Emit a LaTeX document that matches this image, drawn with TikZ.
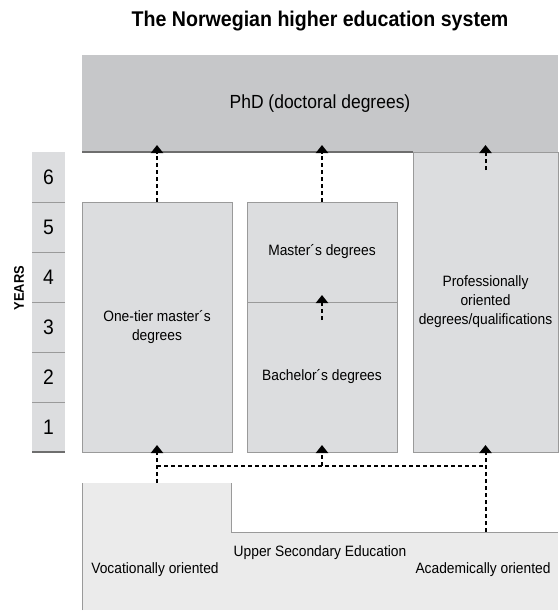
\documentclass[tikz,border=0pt]{standalone}
\usepackage{fontspec}
\setmainfont{Liberation Sans}[FakeStretch=0.92]
\usetikzlibrary{arrows.meta}
\usetikzlibrary{positioning}
\definecolor{phdgray}{HTML}{C6C7C9}
\definecolor{boxgray}{HTML}{DCDDDF}
\definecolor{basegray}{HTML}{EBEBEB}
\definecolor{rulegray}{HTML}{9A9A9A}
\definecolor{darkrule}{HTML}{6E6E6E}
\tikzset{x = 1pt, y = -1pt, > = {Triangle[width = 12pt, length = 8pt]},
  degreebox/.style = {rectangle, fill = boxgray, draw = rulegray, line width = 0.8pt,
    inner sep = 0pt, outer sep = 0pt, align = center, font = \fontsize{15}{19}\selectfont},
  yearcell/.style = {rectangle, fill = boxgray, minimum width = 33pt, minimum height = 50pt,
    inner sep = 0pt, outer sep = 0pt, font = \fontsize{21}{21}\selectfont},
  basebox/.style = {rectangle, fill = basegray, inner sep = 0pt, outer sep = 0pt},
  basetext/.style = {font = \fontsize{15}{19}\selectfont},
  uparrow/.style = {->, line width = 2pt, dash pattern = on 4pt off 3pt, shorten > = -7pt},
  dashline/.style = {line width = 2pt, dash pattern = on 4pt off 3pt},
  edgeline/.style = {draw = rulegray, line width = 0.8pt},
  darkline/.style = {draw = darkrule, line width = 1.6pt}}

\begin{document}
\begin{tikzpicture}
  \useasboundingbox (0, 0) rectangle (558, 611);
  % nodes
  \node [font = \bfseries\fontsize{21.3}{21.3}\selectfont] (title) at (320, 21) {The Norwegian higher education system};
  \node [rectangle, fill = phdgray, minimum width = 476pt, minimum height = 97pt, inner sep = 0pt,
    outer sep = 0pt, font = \fontsize{19}{19}\selectfont] (phd) at (320, 103.5) {PhD (doctoral degrees)};
  \foreach \y in {1, ..., 6}
    \node [yearcell] (y\y) at (48.5, {427 - 50 * (\y - 1)}) {\y};
  \node [rotate = 90, font = \bfseries\fontsize{14}{14}\selectfont] (years) at (19, 288) {YEARS};
  \node [degreebox, minimum width = 150pt, minimum height = 250pt] (onetier) at (157, 327) {One-tier master´s\\degrees};
  \node [degreebox, minimum width = 150pt, minimum height = 100pt, right = 15pt of onetier.north east,
    anchor = north west] (master) {Master´s degrees};
  \node [degreebox, minimum width = 150pt, minimum height = 150pt, below = 0pt of master] (bachelor) {Bachelor´s degrees};
  \node [degreebox, minimum width = 145pt, minimum height = 300pt] (prof) at (485.5, 302) {Professionally\\oriented\\degrees/qualifications};
  \node [basebox, minimum width = 149pt, minimum height = 127pt] (voc) at (156.5, 546.5) {};
  \node [basebox, minimum width = 327pt, minimum height = 78pt] (acad) at (394.5, 571) {};
  \node [basetext] (voctext) at (155, 570) {Vocationally oriented};
  \node [basetext] (usetext) at (320, 553) {Upper Secondary Education};
  \node [basetext] (acadtext) at (483, 570) {Academically oriented};
  % rules
  \draw [darkline] (phd.south west) -- (phd.south west -| prof.west);
  \foreach \y in {1, ..., 5}
    \draw [edgeline] (y\y.north west) -- (y\y.north east);
  \draw [darkline] (y1.south west) -- (y1.south east);
  \draw [edgeline] (voc.south west) -- (voc.north west);
  \draw [edgeline] (voc.north east) -- (acad.north west) -- (acad.north east);
  % paths
  \path (prof.north) ++(0, 18) coordinate (pf);
  \path (master.south) ++(0, 18) coordinate (bm);
  \path (onetier.south) ++(0, 14) coordinate (split);
  \draw [uparrow] (onetier.north) -- (onetier.north |- phd.south);
  \draw [uparrow] (master.north) -- (master.north |- phd.south);
  \draw [uparrow] (pf) -- (prof.north);
  \draw [uparrow] (bm) -- (master.south);
  \draw [uparrow] (onetier.south |- voc.north) -- (onetier.south);
  \draw [uparrow] (prof.south |- acad.north) -- (prof.south);
  \draw [dashline] (split) -- (split -| prof.south);
  \draw [uparrow] (split -| bachelor.south) -- (bachelor.south);
\end{tikzpicture}
\end{document}
